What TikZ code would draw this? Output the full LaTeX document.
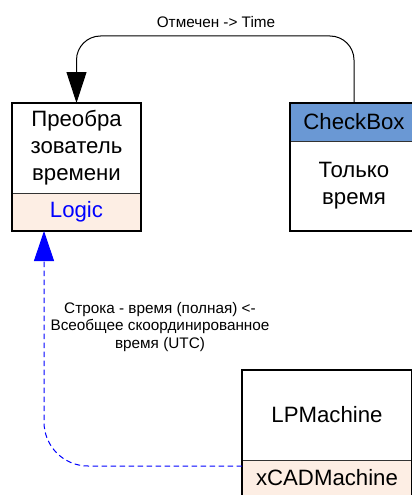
\documentclass[tikz,border=0pt]{standalone}
\usepackage{fontspec}
\setmainfont{Liberation Sans}
\usetikzlibrary{arrows.meta, positioning}
\definecolor{headblue}{RGB}{106,152,212}
\definecolor{peach}{RGB}{253,238,228}
\tikzstyle{part} = [rectangle, draw=black!80, line width=0.8pt, outer sep=0pt, inner sep=0pt, align=center, font=\fontsize{22.2}{27}\selectfont]
\tikzstyle{frame} = [draw=black, line width=2pt]
\tikzstyle{flow} = [-{Triangle[length=31pt, width=20pt]}, line width=1pt]
\tikzstyle{link} = [-{Triangle[length=30pt, width=20pt]}, blue, line width=1pt, dash pattern=on 5.5pt off 3.5pt]
\tikzstyle{note} = [align=center, font=\fontsize{15.3}{17.5}\selectfont]

\begin{document}
\begin{tikzpicture}[x=1pt, y=1pt]
\useasboundingbox (0,0) rectangle (412,-495);
\clip (0,0) rectangle (412,-495);
% Placement of the blocks
\node (conv) [part, anchor=north west, minimum width=129pt, minimum height=90pt] at (12,-103) {Преобра\\зователь\\времени};
\node (logic) [part, fill=peach, text=blue, minimum width=129pt, minimum height=38pt, below=0pt of conv] {Logic};

\node (check) [part, fill=headblue, anchor=north west, minimum width=128pt, minimum height=38pt] at (290,-103) {CheckBox};
\node (onlyTime) [part, minimum width=128pt, minimum height=90pt, below=0pt of check] {Только\\время};

\node (lpm) [part, anchor=north west, minimum width=170pt, minimum height=90pt] at (242,-370) {LPMachine};
\node (xcad) [part, fill=peach, minimum width=170pt, minimum height=36pt, below=0pt of lpm] {xCADMachine};

% Outer frames
\draw [frame] (conv.north west) rectangle (logic.south east);
\draw [frame] (check.north west) rectangle (onlyTime.south east);
\draw [frame] (lpm.north west) rectangle (xcad.south east);

% Drawing of connectors
\coordinate (loopTop) at (216,-36);
\draw [flow, rounded corners=24pt] (check.north) |- (loopTop) -| (conv.north);
\node (checkLabel) [note, above=5pt of loopTop] {Отмечен -> Time};

\draw [link, rounded corners=44pt] ([yshift=12pt]xcad.west) -| ([xshift=-32.5pt]logic.south);
\node (utcLabel) [note] at (160,-327) {Строка - время (полная) <-\\Всеобщее скоординированное\\время (UTC)};

\end{tikzpicture}
\end{document}
